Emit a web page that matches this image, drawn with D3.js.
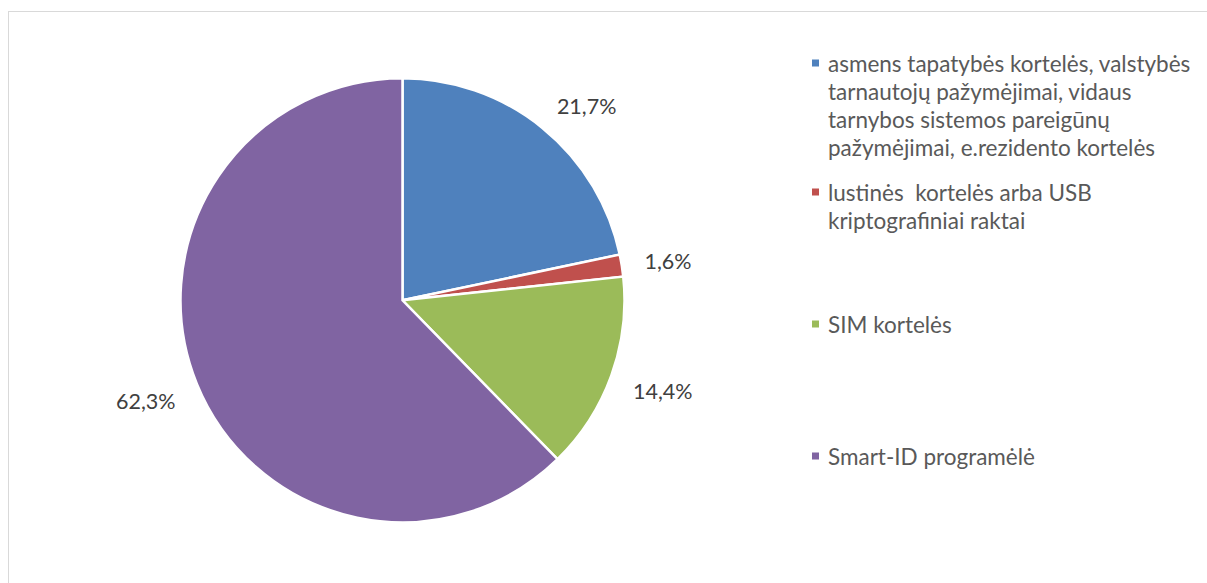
<!DOCTYPE html>
<html>
<head>
<meta charset="utf-8">
<script src="https://cdn.jsdelivr.net/npm/d3@7/dist/d3.min.js"></script>
<style>
  html, body { margin: 0; padding: 0; background: #fff; }
  svg { display: block; }
  text { white-space: pre; }
</style>
</head>
<body>
<svg id="chart" width="1207" height="583"></svg>
<script>
// ---- data ----
const categories = [
  "asmens tapatybės kortelės, valstybės tarnautojų pažymėjimai, vidaus tarnybos sistemos pareigūnų pažymėjimai, e.rezidento kortelės",
  "lustinės  kortelės arba USB kriptografiniai raktai",
  "SIM kortelės",
  "Smart-ID programėlė"
];
const legendLines = [
  ["asmens tapatybės kortelės, valstybės", "tarnautojų pažymėjimai, vidaus", "tarnybos sistemos pareigūnų", "pažymėjimai, e.rezidento kortelės"],
  ["lustinės  kortelės arba USB", "kriptografiniai raktai"],
  ["SIM kortelės"],
  ["Smart-ID programėlė"]
];
const values = [21.7, 1.6, 14.4, 62.3];
const valueLabels = ["21,7%", "1,6%", "14,4%", "62,3%"];
const colors = ["#4F81BD", "#C0504D", "#9BBB59", "#8064A2"];
const legendRowY = [63, 192, 324, 456];

// ---- layout ----
const svg = d3.select("#chart");
const W = 1207, H = 583;
const cx = 402.5, cy = 300.3, r = 222;
const font = "Lato, 'Open Sans', sans-serif";

// chart border
svg.append("rect")
  .attr("x", 8.5).attr("y", 11.5)
  .attr("width", W + 10).attr("height", H + 10)
  .attr("fill", "none").attr("stroke", "#d9d9d9").attr("stroke-width", 1);

const pie = d3.pie().sort(null).value(d => d);
const arcs = pie(values);
const arc = d3.arc().innerRadius(0).outerRadius(r);

const g = svg.append("g").attr("transform", `translate(${cx},${cy})`);
g.selectAll("path.slice")
  .data(arcs)
  .join("path")
  .attr("class", "slice")
  .attr("d", arc)
  .attr("fill", (d, i) => colors[i])
  .attr("stroke", "#fff")
  .attr("stroke-width", 2.5)
  .attr("stroke-linejoin", "miter");

// data labels (outside end)
const R = 245, hh = 6;
const clamp = v => Math.max(-1, Math.min(1, v));
const labels = g.selectAll("text.lbl")
  .data(arcs)
  .join("text")
  .attr("class", "lbl")
  .attr("font-family", font)
  .attr("font-size", 21.5)
  .attr("fill", "#404040")
  .attr("text-anchor", "middle")
  .attr("dominant-baseline", "central")
  .text((d, i) => valueLabels[i]);
labels.each(function(d) {
  const a = (d.startAngle + d.endAngle) / 2;
  const s = Math.sin(a), c = -Math.cos(a);
  const hw = this.getComputedTextLength() / 2;
  const x = R * s + hw * clamp(s / 0.3);
  const y = R * c + hh * clamp(c / 0.3) + 2;
  d3.select(this).attr("x", x).attr("y", y);
});

// legend
const lg = svg.append("g");
const lineH = 28.3;
legendLines.forEach((lines, i) => {
  const y0 = legendRowY[i];
  lg.append("rect")
    .attr("x", 812).attr("y", y0 - 3.5)
    .attr("width", 7).attr("height", 7)
    .attr("fill", colors[i]);
  const t = lg.append("text")
    .attr("font-family", font)
    .attr("font-size", 22.5)
    .attr("fill", "#595959");
  lines.forEach((ln, j) => {
    t.append("tspan")
      .attr("x", 828)
      .attr("y", y0 + j * lineH)
      .attr("dominant-baseline", "central")
      .text(ln);
  });
});
</script>
</body>
</html>
